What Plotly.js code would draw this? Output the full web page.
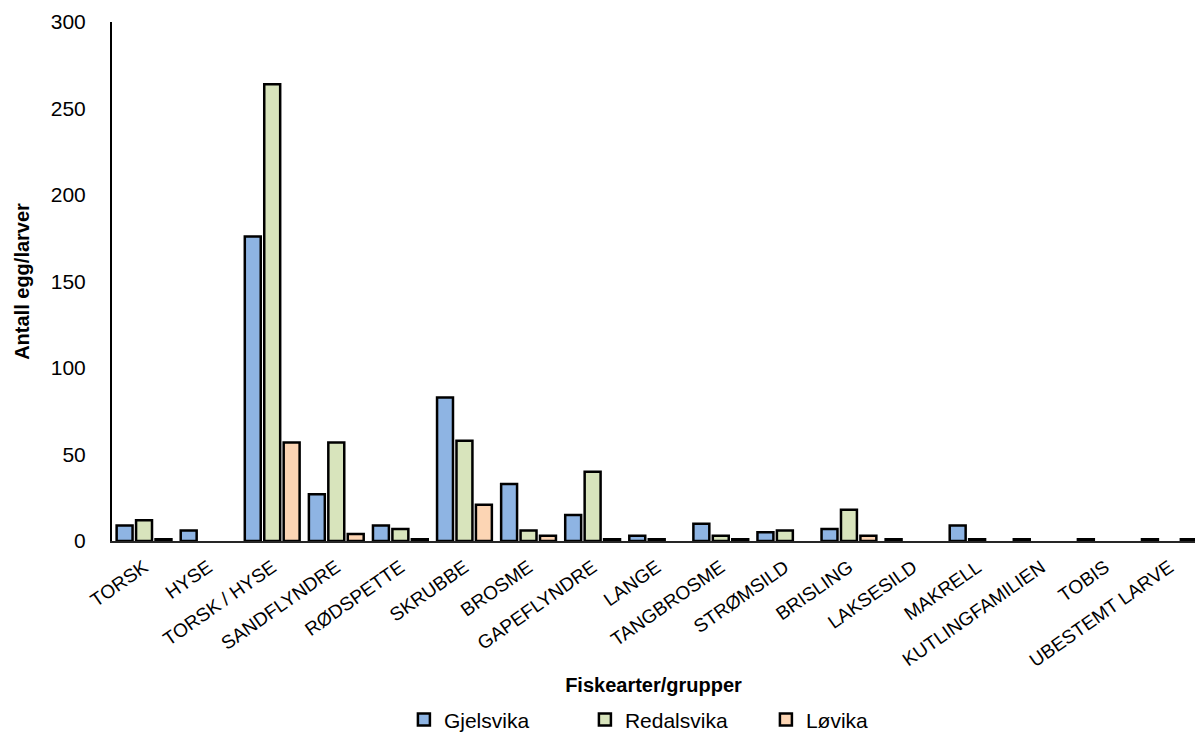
<!DOCTYPE html>
<html>
<head>
<meta charset="utf-8">
<script src="https://cdn.plot.ly/plotly-3.0.1.min.js"></script>
<style>
  html, body { margin: 0; padding: 0; background: #fff; overflow: hidden; }
  #chart { width: 1195px; height: 736px; }
</style>
</head>
<body>
<div id="chart"></div>
<script>
// Fish species / groups sampled
const categories = [
  "TORSK", "HYSE", "TORSK / HYSE", "SANDFLYNDRE", "RØDSPETTE", "SKRUBBE",
  "BROSME", "GAPEFLYNDRE", "LANGE", "TANGBROSME", "STRØMSILD", "BRISLING",
  "LAKSESILD", "MAKRELL", "KUTLINGFAMILIEN", "TOBIS", "UBESTEMT LARVE"
];

// Number of eggs/larvae per site (null = no record)
const gjelsvika  = [9, 6, 176, 27, 9, 83, 33, 15, 3, 10, 5, 7, 1, 9, 1, 1, 1];
const redalsvika = [12, null, 264, 57, 7, 58, 6, 40, 1, 3, 6, 18, null, 1, null, null, null];
const lovika     = [1, null, 57, 4, 1, 21, 3, 1, null, 1, null, 3, null, null, null, null, 1];

const seriesNames = ["Gjelsvika", "Redalsvika", "Løvika"];
const seriesColors = ["#8EB4E3", "#D8E4BC", "#FCD5B4"];
const seriesValues = [gjelsvika, redalsvika, lovika];

const traces = seriesValues.map((vals, i) => ({
  type: "bar",
  name: seriesNames[i],
  x: categories,
  y: vals,
  marker: { color: seriesColors[i], line: { color: "#000000", width: 2.5 } },
  hoverinfo: "x+y+name"
}));

const layout = {
  width: 1195,
  height: 736,
  paper_bgcolor: "#ffffff",
  plot_bgcolor: "#ffffff",
  margin: { l: 112, r: 0, t: 22, b: 195, autoexpand: false },
  barmode: "group",
  bargap: 0.09,
  bargroupgap: 0.18,
  font: { family: "Liberation Sans, Arial, sans-serif", color: "#000000" },
  xaxis: {
    type: "category",
    range: [-0.5, 16.4],
    automargin: false,
    tickangle: -35,
    tickfont: { size: 19, color: "#000000" },
    ticklabelstandoff: 6,
    showline: true,
    linecolor: "#262626",
    linewidth: 2,
    ticks: "",
    showgrid: false,
    zeroline: false,
    title: { text: "<b>Fiskearter/grupper</b>", font: { size: 20, color: "#000000" }, standoff: 8 }
  },
  yaxis: {
    range: [0, 300],
    dtick: 50,
    automargin: false,
    tickfont: { size: 21, color: "#000000" },
    showline: true,
    linecolor: "#000000",
    linewidth: 2,
    ticks: "",
    ticklabelstandoff: 20,
    showgrid: false,
    zeroline: false,
    title: { text: "<b>Antall egg/larver</b>", font: { size: 20, color: "#000000" }, standoff: 16 }
  },
  legend: {
    orientation: "h",
    xref: "container",
    x: 0.338,
    xanchor: "left",
    yref: "container",
    y: 0.022,
    yanchor: "middle",
    font: { size: 21, color: "#000000" },
    itemwidth: 30,
    entrywidth: 136,
    entrywidthmode: "pixels",
    traceorder: "normal"
  },
  showlegend: true
};

Plotly.newPlot("chart", traces, layout, { displayModeBar: false, staticPlot: true });
</script>
</body>
</html>
